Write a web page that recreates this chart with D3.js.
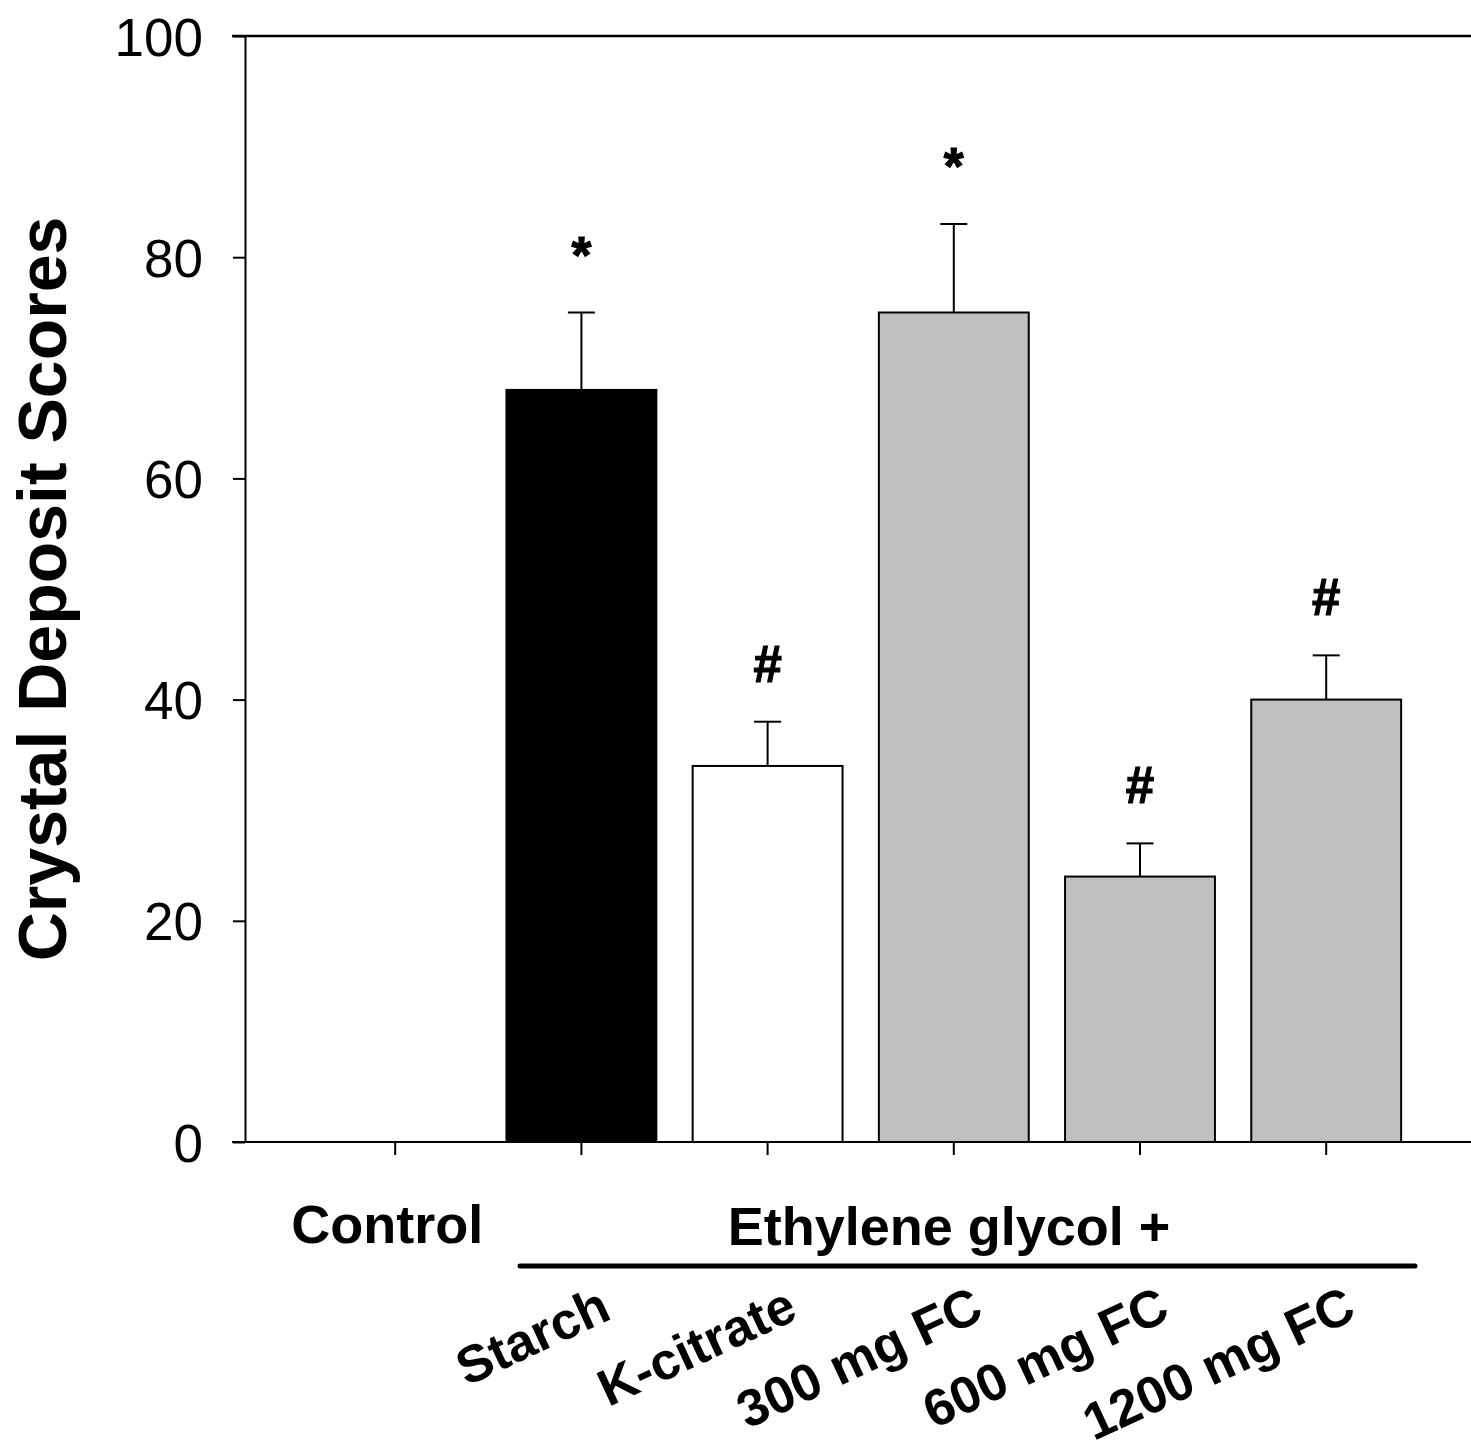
<!DOCTYPE html>
<html>
<head>
<meta charset="utf-8">
<script src="https://cdn.jsdelivr.net/npm/d3@7"></script>
<style>
  html, body { margin: 0; padding: 0; background: #fff; }
  svg { display: block; font-family: "Liberation Sans", Arial, sans-serif; }
</style>
</head>
<body>
<svg id="chart" width="1471" height="1452"></svg>
<script>
const categories = ["Control", "Starch", "K-citrate", "300 mg FC", "600 mg FC", "1200 mg FC"];
const values = [0, 68, 34, 75, 24, 40];
const errors = [0, 7, 4, 8, 3, 4];
const marks = ["", "*", "#", "*", "#", "#"];
const fills = ["#ffffff", "#000000", "#ffffff", "#c0c0c0", "#c0c0c0", "#c0c0c0"];
const yTicks = [0, 20, 40, 60, 80, 100];
const yLabel = "Crystal Deposit Scores";
const groupLabel = "Ethylene glycol +";

const svg = d3.select("#chart");
const W = 1471;
const x = d3.scaleBand().domain(categories).range([302.1, 1419.3]).padding(0);
const y = d3.scaleLinear().domain([0, 100]).range([1142, 36]);
const cx = d => x(d) + x.bandwidth() / 2;
const barW = x.bandwidth() * 0.805;

const data = categories.map((c, i) => ({ c, v: values[i], e: errors[i], m: marks[i], f: fills[i] }));

// bars
svg.append("g").selectAll("rect")
  .data(data.filter(d => d.v > 0))
  .join("rect")
  .attr("x", d => cx(d.c) - barW / 2)
  .attr("y", d => y(d.v))
  .attr("width", barW)
  .attr("height", d => y(0) - y(d.v))
  .attr("fill", d => d.f)
  .attr("stroke", "#000")
  .attr("stroke-width", 2);

// error bars
const eb = svg.append("g").attr("stroke", "#000").attr("stroke-width", 2);
data.filter(d => d.e > 0).forEach(d => {
  eb.append("line").attr("x1", cx(d.c)).attr("x2", cx(d.c)).attr("y1", y(d.v)).attr("y2", y(d.v + d.e));
  eb.append("line").attr("x1", cx(d.c) - 13.5).attr("x2", cx(d.c) + 13.5).attr("y1", y(d.v + d.e)).attr("y2", y(d.v + d.e));
});

// significance marks
svg.append("g").selectAll("text")
  .data(data.filter(d => d.m))
  .join("text")
  .attr("x", d => cx(d.c))
  .attr("y", d => y(d.v + d.e) - 40)
  .attr("text-anchor", "middle")
  .attr("font-size", 51)
  .attr("font-weight", "bold")
  .attr("stroke", "#000")
  .attr("stroke-width", 1.2)
  .text(d => d.m);

// y axis
const yAxis = svg.append("g").attr("transform", "translate(245,0)")
  .call(d3.axisLeft(y).tickValues(yTicks).tickSize(12).tickPadding(30).tickSizeOuter(0));
yAxis.select(".domain").attr("stroke-width", 2);
yAxis.selectAll(".tick line").attr("stroke-width", 2);
yAxis.selectAll(".tick text").attr("font-size", 53).attr("font-family", "Liberation Sans, Arial, sans-serif").attr("fill", "#000").attr("dy", "0.36em");

// x axis
const xAxis = svg.append("g").attr("transform", "translate(0,1142)")
  .call(d3.axisBottom(x).tickSize(13).tickSizeOuter(0).tickFormat(""));
xAxis.select(".domain").remove();
xAxis.selectAll(".tick line").attr("stroke-width", 2);
svg.append("line").attr("x1", 232).attr("x2", W).attr("y1", y(0)).attr("y2", y(0)).attr("stroke", "#000").attr("stroke-width", 2);
// top frame
svg.append("line").attr("x1", 232).attr("x2", W).attr("y1", y(100)).attr("y2", y(100)).attr("stroke", "#000").attr("stroke-width", 2.5);

// x labels
svg.append("text").attr("x", cx(categories[0]) - 8).attr("y", 1243)
  .attr("text-anchor", "middle").attr("font-size", 54).attr("font-weight", "bold").text(categories[0]);
svg.append("text").attr("x", 949).attr("y", 1245)
  .attr("text-anchor", "middle").attr("font-size", 54).attr("font-weight", "bold").text(groupLabel);
svg.append("line").attr("x1", 520).attr("x2", 1415).attr("y1", 1266).attr("y2", 1266)
  .attr("stroke", "#000").attr("stroke-width", 5).attr("stroke-linecap", "round");

svg.append("g").selectAll("text")
  .data(categories.slice(1))
  .join("text")
  .attr("transform", d => `translate(${cx(d) + 32},1318) rotate(-25)`)
  .attr("text-anchor", "end")
  .attr("font-size", 52)
  .attr("font-weight", "bold")
  .text(d => d);

// y title
svg.append("text").attr("transform", "translate(66,589) rotate(-90)")
  .attr("text-anchor", "middle").attr("font-size", 68).attr("font-weight", "bold").text(yLabel);
</script>
</body>
</html>
